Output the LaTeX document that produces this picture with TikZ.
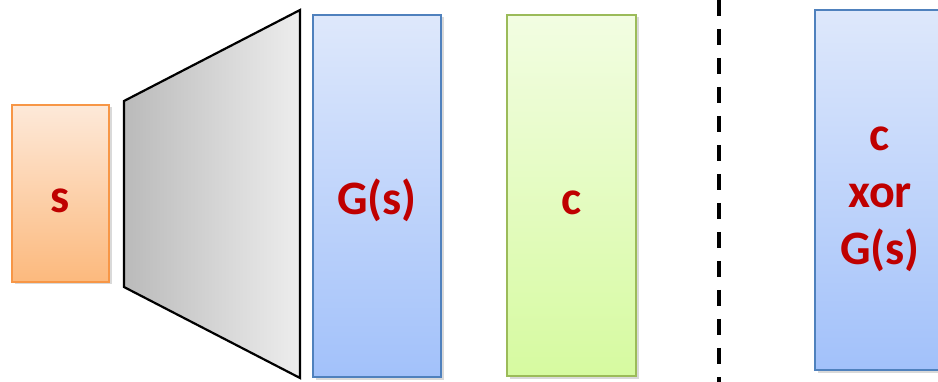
\documentclass[tikz,border=0pt]{standalone}
\usepackage{fontspec}
\setmainfont{Carlito}
\usetikzlibrary{shadows}
\definecolor{LabelClr}{rgb}{0.75,0,0}
\definecolor{SeedLine}{RGB}{247,150,70}
\definecolor{OutLine}{RGB}{79,129,189}
\definecolor{CiphLine}{RGB}{155,187,89}

\tikzset{
  blk/.style={draw, line width=2pt, inner sep=0pt, outer sep=0pt, anchor=north west,
    align=center, text=LabelClr, font=\fontsize{48}{57}\selectfont\bfseries,
    text height=46pt, text depth=8pt,
    drop shadow={opacity=0.3, shadow xshift=2.5pt, shadow yshift=-2.5pt}},
  seedblk/.style={blk, draw=SeedLine, top color={rgb,255:red,253;green,233;blue,217},
    bottom color={rgb,255:red,252;green,185;blue,125}},
  outblk/.style={blk, draw=OutLine, top color={rgb,255:red,222;green,232;blue,251},
    bottom color={rgb,255:red,162;green,193;blue,250}},
  ciphblk/.style={blk, draw=CiphLine, top color={rgb,255:red,242;green,253;blue,226},
    bottom color={rgb,255:red,214;green,250;blue,160}}
}

\begin{document}
\begin{tikzpicture}[x=1pt,y=-1pt]
\useasboundingbox (0,0) rectangle (938,382);

\coordinate (A) at (124,101);
\coordinate (B) at (300,10);
\coordinate (C) at (300,378);
\coordinate (D) at (124,287);

\draw[line width=2.2pt, left color=black!27, right color=black!7] (A) -- (B) -- (C) -- (D) -- cycle;

\node[seedblk, minimum width=97pt, minimum height=177pt] (s) at (12,105) {s};
\node[outblk, minimum width=128pt, minimum height=362pt] (gs) at (313,15) {G(s)};
\node[ciphblk, minimum width=129pt, minimum height=361pt] (c) at (507,15) {c};

\coordinate (top) at (719,0);
\coordinate (bot) at (719,382);
\draw[line width=4pt, dash pattern=on 16pt off 13pt] (top) -- (bot);

\node[outblk, minimum width=130pt, minimum height=360pt] (enc) at (815,10) {};
\node[align=center, text=LabelClr, font=\fontsize{48}{57}\selectfont\bfseries] (enctxt) at (880,199) {c\\xor\\G(s)};

\end{tikzpicture}
\end{document}
